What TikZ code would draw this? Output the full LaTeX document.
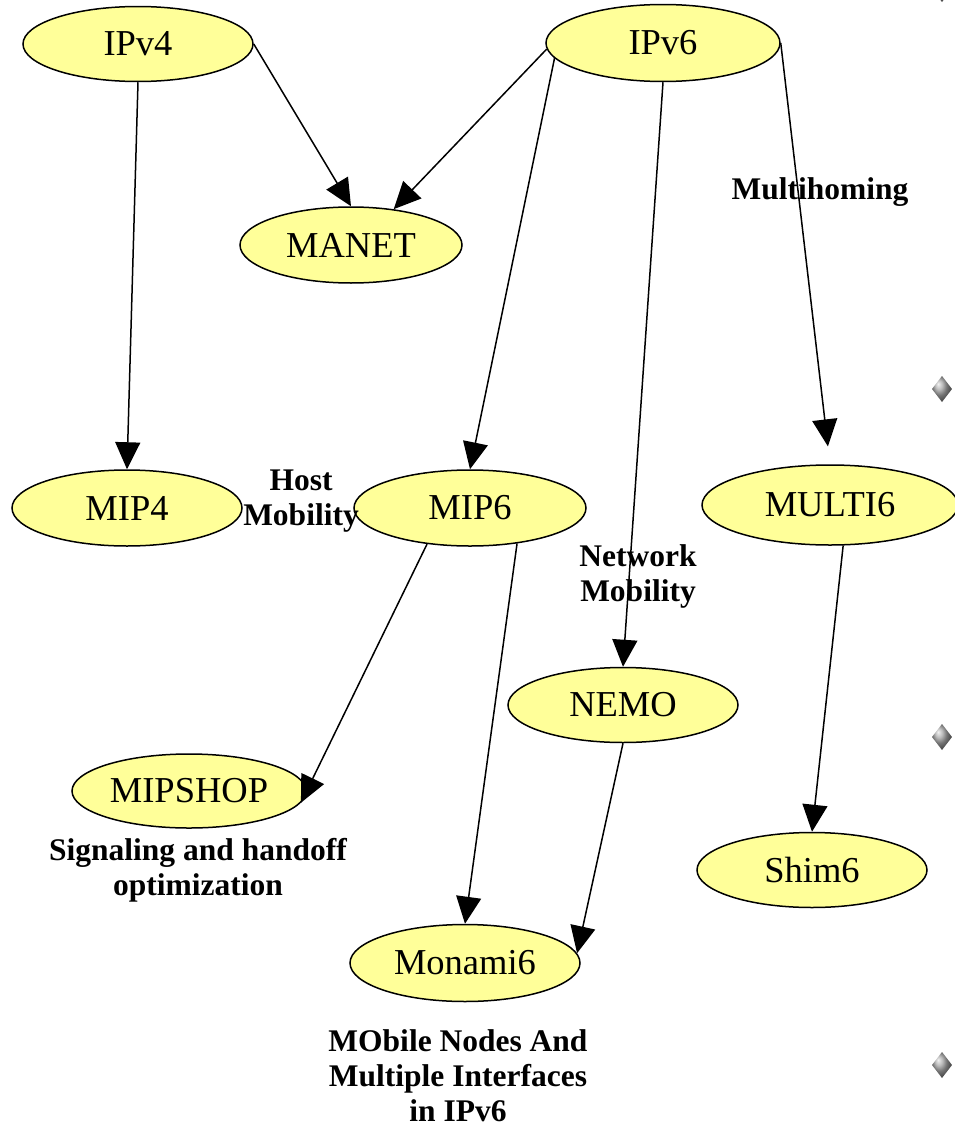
\documentclass[tikz,border=0pt]{standalone}
\usepackage{fontspec}
\setmainfont{Liberation Serif}
\usetikzlibrary{shapes.geometric,arrows.meta}
\definecolor{nodefill}{RGB}{255,255,153}
\tikzset{
  proto/.style={ellipse, draw=black, line width=1.5pt, fill=nodefill, inner sep=0pt,
    font=\fontsize{36.5}{40}\selectfont},
  link/.style={line width=1.5pt, -{Triangle[length=27pt,width=25pt]}},
  note/.style={font=\fontsize{31.5}{35}\selectfont\bfseries, align=center, inner sep=0pt},
  bulletmark/.style={ball color=gray!70, draw=none},
}
\begin{document}
\begin{tikzpicture}[x=1pt,y=-1pt]
\useasboundingbox (0,0) rectangle (955,1127);

% protocol nodes
\node[proto, minimum width=230pt, minimum height=75pt] (ipv4)    at (138,44)  {IPv4};
\node[proto, minimum width=234pt, minimum height=77pt] (ipv6)    at (663,43)  {IPv6};
\node[proto, minimum width=222pt, minimum height=76pt] (manet)   at (351,245) {MANET};
\node[proto, minimum width=230pt, minimum height=76pt] (mip4)    at (127,508) {MIP4};
\node[proto, minimum width=232pt, minimum height=76pt] (mip6)    at (470,508) {MIP6};
\node[proto, minimum width=256pt, minimum height=80pt] (multi6)  at (830,505) {MULTI6};
\node[proto, minimum width=230pt, minimum height=75pt] (nemo)    at (623,705) {NEMO};
\node[proto, minimum width=234pt, minimum height=74pt] (mipshop) at (189,791) {MIPSHOP};
\node[proto, minimum width=230pt, minimum height=75pt] (shim6)   at (812,870) {Shim6};
\node[proto, minimum width=230pt, minimum height=77pt] (monami6) at (465,963) {Monami6};

% descriptive labels
\node[note] (lmh)   at (820,192)  {Multihoming};
\node[note] (lhost) at (301,501)  {Host\\Mobility};
\node[note] (lnet)  at (638,576)  {Network\\Mobility};
\node[note] (lsig)  at (198,870)  {Signaling and handoff\\optimization};
\node[note] (lmon)  at (458,1076) {MObile Nodes And\\Multiple Interfaces\\in IPv6};

% dependencies
\draw[link] (ipv4.east)  -- (manet.north);
\draw[link] (ipv6.183)   -- (manet.40);
\draw[link] (ipv4.south) -- (mip4.north);
\draw[link] (ipv6.188)   -- (mip6.north);
\draw[link] (ipv6.south) -- (nemo.north);
\draw[link, shorten >=18pt] (ipv6.east) -- (multi6.north);
\draw[link] (mip6.220)   -- (mipshop.-6);
\draw[link] (mip6.-37)   -- (monami6.north);
\draw[link] (nemo.south) -- (monami6.5);
\draw[link] (multi6.-72) -- (shim6.north);

% slide bullets along the right edge
\foreach \by in {-11,389,737,1065}{
  \path[bulletmark] (942,\by-13) -- (952,\by) -- (942,\by+13) -- (932,\by) -- cycle;
}
\end{tikzpicture}
\end{document}
